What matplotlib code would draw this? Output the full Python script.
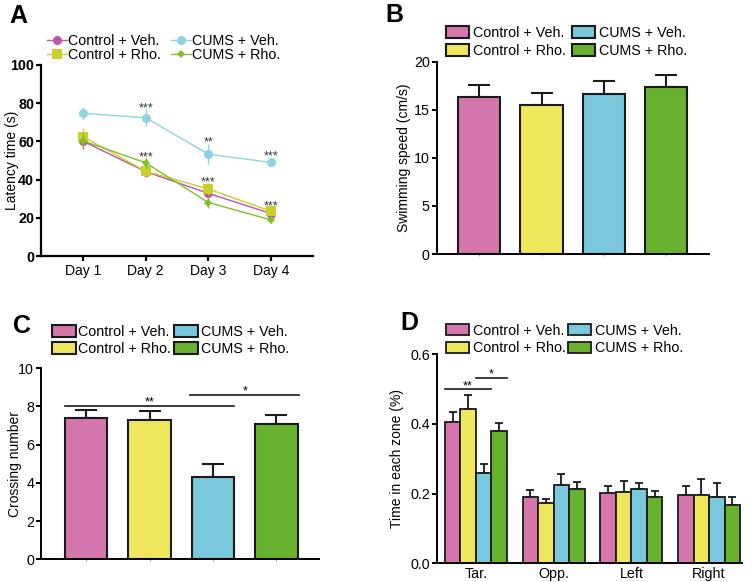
import matplotlib
matplotlib.use("Agg")
import matplotlib.pyplot as plt
import numpy as np

plt.rcParams['font.family'] = ['Liberation Sans', 'DejaVu Sans']

# ---------------- data ----------------
groups = ["Control + Veh.", "Control + Rho.", "CUMS + Veh.", "CUMS + Rho."]
bar_colors = ["#d577ad", "#efe75b", "#79c8db", "#68b22f"]
line_colors = ["#c052a8", "#c9cf2b", "#8fd2e0", "#82bf2a"]
line_markers = ["o", "s", "o", "D"]
line_msizes = [6.5, 6.5, 6.5, 4.5]

days = ["Day 1", "Day 2", "Day 3", "Day 4"]
latency_ctrl_veh = [60.1, 44.2, 32.8, 22.2]
latency_ctrl_veh_err = [4.0, 3.0, 2.5, 2.0]
latency_ctrl_rho = [62.5, 44.4, 35.1, 23.4]
latency_ctrl_rho_err = [4.4, 3.0, 3.0, 2.0]
latency_cums_veh = [74.7, 72.4, 53.3, 49.0]
latency_cums_veh_err = [3.5, 4.5, 5.3, 2.0]
latency_cums_rho = [60.3, 48.8, 28.0, 18.9]
latency_cums_rho_err = [4.0, 2.5, 3.0, 1.5]
latency_stars = ["***", "***", "**", "***", "***", "***"]
latency_star_day = [1, 1, 2, 2, 3, 3]
latency_star_y = [78.5, 53.0, 60.7, 39.5, 53.3, 27.4]

speed = [16.36, 15.49, 16.60, 17.37]
speed_err = [1.18, 1.25, 1.35, 1.28]

crossing = [7.40, 7.30, 4.29, 7.06]
crossing_err = [0.42, 0.45, 0.71, 0.47]

zones = ["Tar.", "Opp.", "Left", "Right"]
zone_ctrl_veh = [0.406, 0.191, 0.201, 0.195]
zone_ctrl_veh_err = [0.028, 0.020, 0.022, 0.028]
zone_ctrl_rho = [0.442, 0.173, 0.206, 0.196]
zone_ctrl_rho_err = [0.042, 0.011, 0.030, 0.045]
zone_cums_veh = [0.258, 0.226, 0.212, 0.191]
zone_cums_veh_err = [0.026, 0.029, 0.019, 0.040]
zone_cums_rho = [0.379, 0.214, 0.189, 0.168]
zone_cums_rho_err = [0.025, 0.018, 0.018, 0.022]

W, H = 752, 582
fig = plt.figure(figsize=(W / 100, H / 100), dpi=100)


def ax_px(l, t, r, b):
    return fig.add_axes([l / W, 1 - b / H, (r - l) / W, (b - t) / H])


def style(ax, lw=1.4):
    for s in ["top", "right"]:
        ax.spines[s].set_visible(False)
    for s in ["left", "bottom"]:
        ax.spines[s].set_linewidth(lw)
    ax.tick_params(axis="y", length=3.5, width=lw, pad=1.5, labelsize=10.3)


def place_ylabel(ax, text, xpx, l, r):
    ax.set_ylabel(text, fontsize=10)
    ax.yaxis.set_label_coords((xpx - l) / (r - l), 0.5)
    ax.yaxis.label.set_va("center")


def add_legend(ax, handles, xl, yc, fs, hl, htp, cs, ls, hh=0.85):
    leg = ax.legend(handles, groups, ncol=2, loc="center left",
                    bbox_to_anchor=(xl / W, 1 - yc / H), bbox_transform=fig.transFigure,
                    frameon=False, borderpad=0, borderaxespad=0, fontsize=fs,
                    handlelength=hl, handletextpad=htp, columnspacing=cs,
                    labelspacing=ls, handleheight=hh)
    return leg


# ---------------- Panel A ----------------
axA = ax_px(41, 65, 313, 256)
style(axA, 1.6)
xd = np.arange(1, len(days) + 1)
series = [(latency_ctrl_veh, latency_ctrl_veh_err),
          (latency_ctrl_rho, latency_ctrl_rho_err),
          (latency_cums_veh, latency_cums_veh_err),
          (latency_cums_rho, latency_cums_rho_err)]
for i, (v, e) in enumerate(series):
    axA.errorbar(xd, v, yerr=e, color=line_colors[i], marker=line_markers[i],
                 ms=line_msizes[i], lw=1.0, elinewidth=1.0, capsize=2.5,
                 markeredgewidth=0, zorder=3 + i)
axA.set_xlim(0.33, 4.67)
axA.set_ylim(0, 100)
axA.set_yticks(np.arange(0, 101, 20))
for lab in axA.get_yticklabels():
    lab.set_fontweight("bold")
axA.set_xticks(xd)
axA.set_xticklabels(days)
axA.tick_params(axis="x", length=3.5, width=1.6, pad=2, labelsize=10)
place_ylabel(axA, "Latency time (s)", 11.7, 41, 313)
for s, d, y in zip(latency_stars, latency_star_day, latency_star_y):
    axA.text(xd[d], y - 1.2, s, ha="center", va="center", fontsize=9, color="#333333")
legA_handles = [plt.Line2D([], [], color=line_colors[i], marker=line_markers[i],
                           ms=line_msizes[i], lw=1.0, markeredgewidth=0) for i in range(4)]
add_legend(axA, legA_handles, 47, 48, 10.3, 1.4, 0.1, 0.65, 0.0)

# ---------------- Panel B ----------------
axB = ax_px(436.7, 61.7, 708.7, 254)
style(axB)
xb = np.arange(len(groups))
barsB = axB.bar(xb, speed, width=0.68, color=bar_colors, edgecolor="#1a1a1a", linewidth=1.5, zorder=2)
axB.errorbar(xb, speed, yerr=[np.zeros(4), speed_err], fmt="none", ecolor="#1a1a1a",
             elinewidth=1.5, capsize=7.8, capthick=1.5, zorder=1)
axB.set_xlim(-0.68, 3.68)
axB.set_ylim(0, 20)
axB.set_yticks([0, 5, 10, 15, 20])
axB.set_xticks(xb)
axB.set_xticklabels([])
axB.tick_params(axis="x", length=1.5, width=0.6, color="#888888")
place_ylabel(axB, "Swimming speed (cm/s)", 404, 436.7, 708.7)
add_legend(axB, barsB.patches, 446, 42, 10.3, 1.6, 0.26, 0.47, 0.3)

# ---------------- Panel C ----------------
axC = ax_px(41, 368, 319, 559.3)
style(axC)
barsC = axC.bar(xb, crossing, width=0.67, color=bar_colors, edgecolor="#1a1a1a", linewidth=1.5, zorder=2)
axC.errorbar(xb, crossing, yerr=[np.zeros(4), crossing_err], fmt="none", ecolor="#1a1a1a",
             elinewidth=1.5, capsize=7.8, capthick=1.5, zorder=1)
axC.set_xlim(-0.71, 3.67)
axC.set_ylim(0, 10)
axC.set_yticks([0, 2, 4, 6, 8, 10])
axC.set_xticks(xb)
axC.set_xticklabels([])
axC.tick_params(axis="x", length=1.5, width=0.6, color="#888888")
place_ylabel(axC, "Crossing number", 15, 41, 319)
axC.plot([xb[0] - 0.335, xb[2] + 0.335], [8.01, 8.01], color="#1a1a1a", lw=1.2)
axC.text((xb[0] + xb[2]) / 2, 8.2, "**", ha="center", va="center", fontsize=9)
axC.plot([xb[2] - 0.37, xb[3] + 0.35], [8.57, 8.57], color="#1a1a1a", lw=1.2)
axC.text((xb[2] + xb[3]) / 2, 8.76, "*", ha="center", va="center", fontsize=9)
add_legend(axC, barsC.patches, 51.7, 340.5, 10.3, 1.7, 0.16, 0.2, 0.22)

# ---------------- Panel D ----------------
axD = ax_px(437, 354.3, 741.7, 563.3)
style(axD)
xz = np.arange(len(zones))
bw = 0.2
zseries = [(zone_ctrl_veh, zone_ctrl_veh_err), (zone_ctrl_rho, zone_ctrl_rho_err),
           (zone_cums_veh, zone_cums_veh_err), (zone_cums_rho, zone_cums_rho_err)]
hD = []
for i, (v, e) in enumerate(zseries):
    pos = xz + (i - 1.5) * bw
    b = axD.bar(pos, v, width=bw, color=bar_colors[i], edgecolor="#1a1a1a", linewidth=1.3, zorder=2)
    axD.errorbar(pos, v, yerr=[np.zeros(4), e], fmt="none", ecolor="#1a1a1a",
                 elinewidth=1.3, capsize=3.0, capthick=1.3, zorder=1)
    hD.append(b.patches[0])
axD.set_xlim(-0.5, 3.42)
axD.set_ylim(0, 0.6)
axD.set_yticks([0.0, 0.2, 0.4, 0.6])
axD.set_yticklabels(["0.0", "0.2", "0.4", "0.6"])
axD.set_xticks(xz)
axD.set_xticklabels(zones)
axD.tick_params(axis="x", length=0, pad=3, labelsize=10.3)
place_ylabel(axD, "Time in each zone (%)", 396.7, 437, 741.7)
axD.plot([xz[0] - 2 * bw, xz[0] + bw], [0.499, 0.499], color="#1a1a1a", lw=1.2)
axD.text(xz[0] - 0.5 * bw, 0.508, "**", ha="center", va="center", fontsize=9)
axD.plot([xz[0], xz[0] + 2 * bw], [0.531, 0.531], color="#1a1a1a", lw=1.2)
axD.text(xz[0] + 1.0 * bw, 0.541, "*", ha="center", va="center", fontsize=9)
add_legend(axD, hD, 446, 339.5, 10.3, 1.6, 0.26, 0.19, 0.25)

# ---------------- Panel letters ----------------
for letter, x, y in [("A", 9, 16), ("B", 385, 15), ("C", 13, 326), ("D", 400, 323)]:
    fig.text(x / W, 1 - y / H, letter, fontsize=18, fontweight="bold", ha="left", va="center")

fig.savefig("out.png", dpi=100)
